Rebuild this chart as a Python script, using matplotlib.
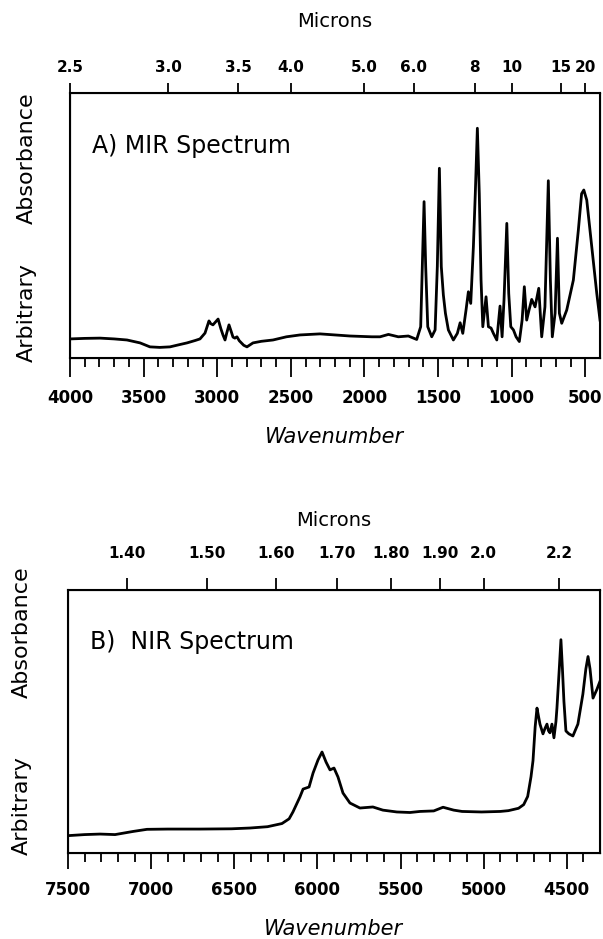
import numpy as np
import matplotlib
matplotlib.use("Agg")
import matplotlib.pyplot as plt

# ---- MIR spectrum (wavenumber, absorbance in fraction of frame height)
mir_wn = [4000, 3900, 3796, 3700, 3613, 3524, 3457, 3390, 3321, 3260, 3205, 3150,
          3117, 3083, 3056, 3045, 3029, 2994, 2975, 2961, 2947, 2935, 2920, 2905,
          2893, 2880, 2866, 2850, 2820, 2798, 2757, 2700, 2621, 2530, 2438, 2302,
          2200, 2098, 1950, 1894, 1837, 1770, 1702, 1645, 1618, 1607, 1595, 1584,
          1570, 1543, 1520, 1505, 1491, 1478, 1464, 1450, 1430, 1396, 1369, 1350,
          1332, 1310, 1294, 1278, 1260, 1247, 1233, 1220, 1208, 1196, 1174, 1158,
          1140, 1124, 1101, 1079, 1065, 1052, 1033, 1020, 1006, 988, 970, 948,
          929, 914, 898, 882, 864, 841, 816, 796, 774, 751, 737, 724, 705, 689,
          676, 660, 626, 581, 547, 525, 510, 490, 456, 422, 400]
mir_abs = [0.072, 0.074, 0.075, 0.072, 0.068, 0.057, 0.042, 0.040, 0.042, 0.050, 0.057, 0.066,
           0.072, 0.094, 0.140, 0.130, 0.125, 0.147, 0.110, 0.087, 0.068, 0.095, 0.125, 0.100,
           0.079, 0.075, 0.080, 0.065, 0.048, 0.042, 0.057, 0.063, 0.068, 0.080, 0.087, 0.091,
           0.087, 0.083, 0.080, 0.080, 0.089, 0.080, 0.083, 0.070, 0.118, 0.345, 0.590, 0.345,
           0.118, 0.080, 0.106, 0.345, 0.716, 0.345, 0.238, 0.169, 0.106, 0.068, 0.093, 0.133,
           0.093, 0.181, 0.250, 0.206, 0.420, 0.621, 0.867, 0.621, 0.294, 0.118, 0.231, 0.118,
           0.113, 0.093, 0.068, 0.196, 0.080, 0.219, 0.508, 0.244, 0.118, 0.106, 0.080, 0.062,
           0.143, 0.269, 0.143, 0.181, 0.221, 0.193, 0.263, 0.080, 0.193, 0.669, 0.294, 0.080,
           0.169, 0.452, 0.169, 0.131, 0.181, 0.294, 0.483, 0.620, 0.634, 0.596, 0.420, 0.244, 0.143]
mir_um = [2.5, 3.0, 3.5, 4.0, 5.0, 6.0, 8, 10, 15, 20]
mir_um_labels = ["2.5", "3.0", "3.5", "4.0", "5.0", "6.0", "8", "10", "15", "20"]

# ---- NIR spectrum
nir_wn = [7500, 7400, 7307, 7217, 7108, 7025, 6900, 6706, 6517, 6405, 6300, 6213,
          6170, 6147, 6105, 6086, 6050, 6026, 5996, 5972, 5948, 5924, 5900, 5876,
          5846, 5804, 5744, 5666, 5606, 5522, 5443, 5383, 5300, 5244, 5180, 5130,
          5013, 4900, 4851, 4790, 4759, 4735, 4715, 4703, 4690, 4679, 4670, 4661,
          4643, 4630, 4619, 4610, 4601, 4589, 4577, 4565, 4559, 4545, 4535, 4526,
          4517, 4505, 4487, 4463, 4433, 4403, 4385, 4372, 4360, 4342, 4318, 4300]
nir_abs = [0.066, 0.070, 0.072, 0.070, 0.082, 0.090, 0.091, 0.091, 0.092, 0.095, 0.100, 0.112,
           0.130, 0.156, 0.213, 0.243, 0.251, 0.304, 0.354, 0.384, 0.346, 0.316, 0.323, 0.289,
           0.228, 0.190, 0.171, 0.175, 0.163, 0.156, 0.154, 0.158, 0.160, 0.174, 0.163, 0.158,
           0.156, 0.158, 0.161, 0.170, 0.184, 0.215, 0.290, 0.351, 0.480, 0.551, 0.520, 0.490,
           0.453, 0.475, 0.490, 0.465, 0.457, 0.490, 0.438, 0.500, 0.551, 0.700, 0.811, 0.700,
           0.577, 0.464, 0.453, 0.445, 0.490, 0.604, 0.700, 0.747, 0.700, 0.589, 0.623, 0.653]
nir_um = [1.40, 1.50, 1.60, 1.70, 1.80, 1.90, 2.0, 2.2]
nir_um_labels = ["1.40", "1.50", "1.60", "1.70", "1.80", "1.90", "2.0", "2.2"]


def panel(rect, wn, ab, xlim, um, um_labels, title, top_len, top_pad, mic_pad,
          maj_len, ylab_x, arb_y, abs_y):
    ax = fig.add_axes(rect)
    ax.plot(wn, ab, c="k", lw=2.0)
    ax.set_xlim(xlim)
    ax.set_ylim(0, 1)
    ax.set_yticks([])
    ax.set_xticks(np.arange(xlim[0], xlim[1] + 99, -500))
    ax.set_xticks(np.arange(xlim[0], xlim[1], -100), minor=True)
    ax.tick_params(axis="x", which="major", direction="out", length=maj_len,
                   width=1.3, pad=9, labelsize=12)
    ax.tick_params(axis="x", which="minor", direction="out", length=6.5, width=1.3)
    for lab in ax.get_xticklabels():
        lab.set_fontweight("bold")
    for s in ax.spines.values():
        s.set_linewidth(1.5)
    ax.set_xlabel("Wavenumber", fontsize=15, style="italic", labelpad=14)

    # microns on top
    top = ax.twiny()
    top.set_xlim(xlim)
    top.set_xticks([1e4 / u for u in um])
    top.set_xticklabels(um_labels, fontsize=11, fontweight="bold")
    top.tick_params(axis="x", direction="out", length=top_len, width=1.3, pad=top_pad)
    top.set_xlabel("Microns", fontsize=14, labelpad=mic_pad)

    ax.text(0.042, 0.775, title, transform=ax.transAxes, fontsize=17)
    ax.text(ylab_x, arb_y, "Arbitrary", transform=ax.transAxes, rotation=90,
            fontsize=16, ha="center", va="center")
    ax.text(ylab_x, abs_y, "Absorbance", transform=ax.transAxes, rotation=90,
            fontsize=16, ha="center", va="center")
    return ax


fig = plt.figure(figsize=(6.03, 9.39), dpi=100)

panel([70 / 603, 1 - 358 / 939, 530 / 603, 265 / 939], mir_wn, mir_abs, (4000, 400),
      mir_um, mir_um_labels, "A) MIR Spectrum", 7, 6, 24, 13.5, -0.081, 0.17, 0.755)
panel([68 / 603, 1 - 853 / 939, 532 / 603, 263 / 939], nir_wn, nir_abs, (7500, 4300),
      nir_um, nir_um_labels, "B)  NIR Spectrum", 9, 12, 14, 11.5, -0.086, 0.18, 0.84)

fig.savefig("out.png", dpi=100)
